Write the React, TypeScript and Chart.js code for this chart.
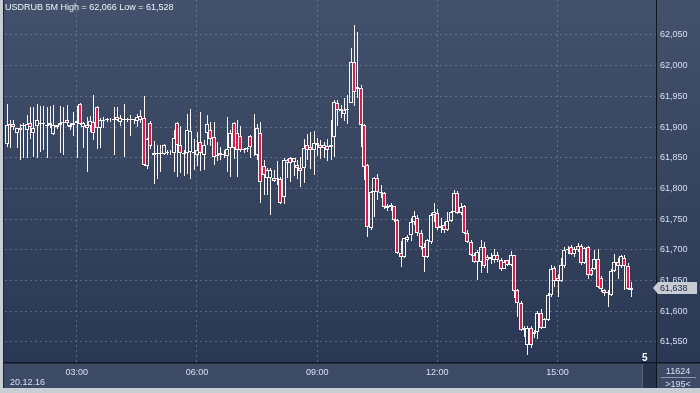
import React, { useEffect, useRef } from 'react';
import { Chart, registerables } from 'chart.js';

Chart.register(...registerables);

// ---------- data ----------
const startMinute = 75; // 01:15, 5-minute bars
const slotCount = 195;
const xTickLabels = ['03:00', '06:00', '09:00', '12:00', '15:00'];
const yTickValues = [61.55, 61.6, 61.65, 61.7, 61.75, 61.8, 61.85, 61.9, 61.95, 62.0, 62.05];
const yMin = 61.5173;
const yMax = 62.107;

const titleText = 'USDRUB 5M High = 62,066 Low = 61,528';
const dateLabel = '20.12.16';
const lastPrice = 61.638;
const volumeLabel = '11624';
const barsLabel = '>195<';
const zoomLabel = '5';

const openPrices = [
  61.872, 61.903, 61.905, 61.890, 61.896, 61.902, 61.895, 61.907, 61.890, 61.902,
  61.905, 61.905, 61.901, 61.903, 61.889, 61.900, 61.903, 61.906, 61.911, 61.900,
  61.906, 61.906, 61.938, 61.900, 61.899, 61.902, 61.909, 61.933, 61.899, 61.910,
  61.911, 61.911, 61.912, 61.916, 61.908, 61.911, 61.911, 61.911, 61.912, 61.910,
  61.918, 61.915, 61.836, 61.907, 61.855, 61.856, 61.856, 61.856, 61.858, 61.859,
  61.858, 61.906, 61.871, 61.856, 61.858, 61.860, 61.857, 61.855, 61.876, 61.854,
  61.890, 61.895, 61.884, 61.853, 61.855, 61.855, 61.853, 61.866, 61.906, 61.890,
  61.885, 61.862, 61.865, 61.885, 61.867, 61.854, 61.890, 61.837, 61.817, 61.817,
  61.817, 61.815, 61.815, 61.786, 61.842, 61.849, 61.843, 61.838, 61.834, 61.833,
  61.871, 61.868, 61.863, 61.871, 61.871, 61.866, 61.869, 61.868, 61.884, 61.939,
  61.926, 61.922, 61.928, 61.940, 62.006, 61.962, 61.964, 61.903, 61.838, 61.735,
  61.794, 61.817, 61.793, 61.793, 61.772, 61.773, 61.771, 61.749, 61.695, 61.688,
  61.716, 61.724, 61.745, 61.752, 61.727, 61.704, 61.688, 61.713, 61.756, 61.760,
  61.739, 61.740, 61.733, 61.747, 61.762, 61.793, 61.760, 61.771, 61.727, 61.713,
  61.692, 61.680, 61.680, 61.705, 61.683, 61.685, 61.683, 61.692, 61.683, 61.669,
  61.683, 61.675, 61.691, 61.635, 61.614, 61.572, 61.545, 61.573, 61.566, 61.566,
  61.597, 61.573, 61.586, 61.626, 61.670, 61.654, 61.650, 61.673, 61.700, 61.705,
  61.693, 61.700, 61.706, 61.678, 61.705, 61.667, 61.668, 61.685, 61.654, 61.634,
  61.630, 61.626, 61.666, 61.681, 61.673, 61.687, 61.673, 61.635,
];

const highPrices = [
  61.938, 61.912, 61.912, 61.899, 61.905, 61.906, 61.920, 61.932, 61.932, 61.937,
  61.935, 61.935, 61.932, 61.935, 61.936, 61.904, 61.935, 61.933, 61.936, 61.907,
  61.924, 61.935, 61.940, 61.908, 61.917, 61.918, 61.952, 61.935, 61.914, 61.916,
  61.915, 61.914, 61.932, 61.933, 61.919, 61.937, 61.915, 61.919, 61.913, 61.922,
  61.927, 61.950, 61.883, 61.910, 61.878, 61.870, 61.870, 61.872, 61.862, 61.862,
  61.895, 61.909, 61.901, 61.863, 61.922, 61.930, 61.881, 61.892, 61.925, 61.879,
  61.920, 61.909, 61.909, 61.875, 61.867, 61.862, 61.917, 61.895, 61.908, 61.911,
  61.901, 61.866, 61.868, 61.887, 61.921, 61.905, 61.909, 61.846, 61.833, 61.833,
  61.830, 61.845, 61.818, 61.849, 61.848, 61.851, 61.850, 61.846, 61.851, 61.880,
  61.889, 61.892, 61.893, 61.882, 61.879, 61.876, 61.880, 61.911, 61.944, 61.944,
  61.936, 61.947, 61.952, 62.029, 62.066, 62.055, 61.969, 61.905, 61.840, 61.796,
  61.819, 61.824, 61.806, 61.794, 61.775, 61.777, 61.772, 61.750, 61.715, 61.720,
  61.724, 61.752, 61.763, 61.757, 61.732, 61.711, 61.718, 61.760, 61.776, 61.767,
  61.752, 61.745, 61.762, 61.763, 61.797, 61.796, 61.777, 61.773, 61.732, 61.716,
  61.695, 61.700, 61.716, 61.712, 61.692, 61.695, 61.701, 61.696, 61.686, 61.684,
  61.684, 61.698, 61.692, 61.637, 61.616, 61.576, 61.576, 61.576, 61.570, 61.600,
  61.603, 61.589, 61.629, 61.675, 61.673, 61.661, 61.686, 61.704, 61.707, 61.708,
  61.705, 61.711, 61.710, 61.705, 61.707, 61.671, 61.700, 61.702, 61.657, 61.636,
  61.634, 61.668, 61.693, 61.686, 61.692, 61.692, 61.678, 61.648,
];

const lowPrices = [
  61.868, 61.866, 61.895, 61.866, 61.846, 61.850, 61.849, 61.880, 61.852, 61.850,
  61.860, 61.862, 61.849, 61.898, 61.887, 61.897, 61.858, 61.855, 61.901, 61.896,
  61.885, 61.849, 61.903, 61.866, 61.826, 61.892, 61.879, 61.864, 61.866, 61.898,
  61.909, 61.909, 61.855, 61.910, 61.902, 61.852, 61.908, 61.886, 61.905, 61.900,
  61.907, 61.837, 61.832, 61.864, 61.808, 61.815, 61.826, 61.855, 61.854, 61.855,
  61.827, 61.819, 61.825, 61.820, 61.824, 61.815, 61.830, 61.836, 61.829, 61.830,
  61.871, 61.869, 61.838, 61.845, 61.847, 61.850, 61.826, 61.818, 61.848, 61.818,
  61.860, 61.858, 61.860, 61.850, 61.853, 61.847, 61.776, 61.789, 61.790, 61.757,
  61.810, 61.806, 61.774, 61.775, 61.817, 61.810, 61.820, 61.815, 61.803, 61.809,
  61.846, 61.832, 61.822, 61.853, 61.848, 61.850, 61.845, 61.846, 61.852, 61.902,
  61.915, 61.910, 61.905, 61.939, 61.935, 61.947, 61.868, 61.814, 61.721, 61.733,
  61.754, 61.781, 61.785, 61.767, 61.764, 61.764, 61.746, 61.693, 61.672, 61.687,
  61.713, 61.714, 61.740, 61.722, 61.702, 61.664, 61.686, 61.710, 61.746, 61.733,
  61.728, 61.728, 61.731, 61.745, 61.761, 61.759, 61.756, 61.725, 61.711, 61.690,
  61.678, 61.651, 61.662, 61.670, 61.662, 61.677, 61.679, 61.680, 61.666, 61.668,
  61.673, 61.674, 61.622, 61.591, 61.567, 61.558, 61.528, 61.540, 61.557, 61.555,
  61.571, 61.572, 61.584, 61.623, 61.639, 61.623, 61.647, 61.670, 61.694, 61.691,
  61.689, 61.696, 61.676, 61.677, 61.652, 61.657, 61.667, 61.638, 61.632, 61.625,
  61.607, 61.625, 61.664, 61.652, 61.671, 61.634, 61.634, 61.623,
];

const closePrices = [
  61.903, 61.905, 61.900, 61.899, 61.898, 61.904, 61.905, 61.900, 61.899, 61.911,
  61.907, 61.907, 61.904, 61.906, 61.903, 61.903, 61.906, 61.909, 61.907, 61.904,
  61.903, 61.910, 61.905, 61.906, 61.904, 61.910, 61.891, 61.899, 61.912, 61.912,
  61.913, 61.912, 61.913, 61.911, 61.914, 61.913, 61.913, 61.913, 61.913, 61.916,
  61.912, 61.838, 61.880, 61.869, 61.858, 61.858, 61.858, 61.871, 61.860, 61.860,
  61.882, 61.871, 61.858, 61.858, 61.895, 61.893, 61.859, 61.862, 61.858, 61.870,
  61.905, 61.881, 61.852, 61.855, 61.857, 61.856, 61.864, 61.891, 61.866, 61.863,
  61.863, 61.864, 61.866, 61.868, 61.868, 61.898, 61.810, 61.822, 61.830, 61.830,
  61.812, 61.817, 61.776, 61.846, 61.846, 61.842, 61.849, 61.833, 61.828, 61.866,
  61.863, 61.863, 61.874, 61.874, 61.866, 61.871, 61.863, 61.871, 61.941, 61.928,
  61.929, 61.927, 61.930, 62.006, 61.957, 61.965, 61.903, 61.835, 61.737, 61.794,
  61.817, 61.794, 61.795, 61.770, 61.768, 61.770, 61.749, 61.695, 61.688, 61.719,
  61.721, 61.745, 61.755, 61.727, 61.704, 61.688, 61.716, 61.757, 61.762, 61.736,
  61.735, 61.733, 61.747, 61.762, 61.793, 61.760, 61.770, 61.727, 61.713, 61.692,
  61.680, 61.697, 61.705, 61.673, 61.688, 61.688, 61.692, 61.683, 61.669, 61.680,
  61.676, 61.692, 61.633, 61.614, 61.570, 61.570, 61.573, 61.545, 61.563, 61.597,
  61.573, 61.587, 61.626, 61.668, 61.650, 61.650, 61.676, 61.700, 61.702, 61.693,
  61.702, 61.706, 61.678, 61.703, 61.659, 61.659, 61.685, 61.640, 61.637, 61.630,
  61.632, 61.665, 61.681, 61.674, 61.690, 61.673, 61.637, 61.638,
];

// ---------- helpers ----------
const pad2 = (n: number) => (n < 10 ? '0' + n : '' + n);
const categories: string[] = [];
for (let i = 0; i < slotCount; i++) {
  const m = startMinute + i * 5;
  categories.push(pad2(Math.floor(m / 60) % 24) + ':' + pad2(m % 60));
}
const fmtPrice = (v: number) => v.toFixed(3).replace('.', ',');

const FONT = "'Liberation Sans', Arial, sans-serif";
const AXIS_TEXT = '#d3e0f2';
const GRID = 'rgba(120,135,165,0.6)';
const CANDLE_LINE = '#fbf7f7';
const CANDLE_DOWN = '#e3194a';
const W = 700;
const H = 393;

// snap candle elements to whole pixels so lines render crisp
const snapPlugin = {
  id: 'snap',
  afterDatasetsUpdate(chart: any) {
    chart.data.datasets.forEach((ds: any, di: number) => {
      const meta = chart.getDatasetMeta(di);
      const isWick = ds.label !== 'body';
      meta.data.forEach((el: any) => {
        el.x = Math.round(el.x) + (isWick ? 0.5 : 0);
        el.y = Math.round(el.y);
        el.base = Math.round(el.base);
      });
    });
  },
};

const framePlugin = {
  id: 'frame',
  beforeDraw(chart: any) {
    const ctx = chart.ctx as CanvasRenderingContext2D;
    const { bottom } = chart.chartArea;
    ctx.save();
    ctx.fillStyle = '#c9cdd4';
    ctx.fillRect(0, 0, W, H);
    const g = ctx.createLinearGradient(0, 0, 0, bottom);
    g.addColorStop(0, '#43516c');
    g.addColorStop(0.5, '#36445f');
    g.addColorStop(1, '#2b3855');
    ctx.fillStyle = g;
    ctx.fillRect(3, 0, W - 3, bottom);
    ctx.fillStyle = '#3d4a66';
    ctx.fillRect(3, bottom, W - 3, 388 - bottom);
    ctx.restore();
  },
  afterDraw(chart: any) {
    const ctx = chart.ctx as CanvasRenderingContext2D;
    const { right, bottom } = chart.chartArea;
    ctx.save();
    // separators
    ctx.fillStyle = '#10151f';
    ctx.fillRect(3, bottom, W - 3, 1.5);
    ctx.fillRect(right, 0, 1, 388);
    ctx.fillStyle = '#1b2233';
    ctx.fillRect(3, 0, 1, 388);
    // scroll box
    ctx.fillStyle = '#27324b';
    ctx.fillRect(643, bottom + 2, right - 643, 388 - bottom - 2);
    ctx.fillStyle = '#56627a';
    ctx.fillRect(642, bottom + 2, 1, 388 - bottom - 2);
    // bottom-right box
    ctx.fillStyle = '#8d99ae';
    ctx.fillRect(661, 377, 35, 1);

    ctx.fillStyle = '#eef2f8';
    ctx.font = `9px ${FONT}`;
    ctx.textBaseline = 'middle';
    ctx.textAlign = 'left';
    ctx.fillText(titleText, 5, 8);

    ctx.fillStyle = AXIS_TEXT;
    ctx.textBaseline = 'alphabetic';
    ctx.fillText(dateLabel, 10, 385);
    ctx.textAlign = 'center';
    ctx.fillText(volumeLabel, 678, 374);
    ctx.fillText(barsLabel, 678, 387);

    ctx.fillStyle = '#ffffff';
    ctx.font = `bold 10px ${FONT}`;
    ctx.textAlign = 'left';
    ctx.fillText(zoomLabel, 642, 361);

    // last price marker
    const py = chart.scales.y.getPixelForValue(lastPrice);
    ctx.fillStyle = '#c7ccd5';
    ctx.beginPath();
    ctx.moveTo(653, py);
    ctx.lineTo(658, py - 6);
    ctx.lineTo(697, py - 6);
    ctx.lineTo(697, py + 6);
    ctx.lineTo(658, py + 6);
    ctx.closePath();
    ctx.fill();
    ctx.fillStyle = '#1c2641';
    ctx.font = `9px ${FONT}`;
    ctx.textBaseline = 'middle';
    ctx.fillText(fmtPrice(lastPrice), 660, py + 0.5);
    ctx.restore();
  },
};

export default function App() {
  const canvasRef = useRef<HTMLCanvasElement | null>(null);

  useEffect(() => {
    const canvas = canvasRef.current;
    if (!canvas) return;
    const n = closePrices.length;
    const bodies: [number, number][] = [];
    const upper: [number, number][] = [];
    const lower: [number, number][] = [];
    const fills: string[] = [];
    for (let i = 0; i < n; i++) {
      const o = openPrices[i];
      const c = closePrices[i];
      bodies.push([o, c]);
      upper.push([Math.max(o, c), highPrices[i]]);
      lower.push([lowPrices[i], Math.min(o, c)]);
      fills.push(c < o ? CANDLE_DOWN : 'rgba(0,0,0,0)');
    }

    const chart = new Chart(canvas, {
      type: 'bar',
      data: {
        labels: categories,
        datasets: [
          {
            label: 'body',
            data: bodies as any,
            backgroundColor: fills,
            borderColor: CANDLE_LINE,
            borderWidth: 1,
            borderSkipped: false,
            barThickness: 4,
            grouped: false,
            inflateAmount: 0,
          } as any,
          {
            label: 'upper',
            data: upper as any,
            backgroundColor: CANDLE_LINE,
            borderWidth: 0,
            barThickness: 1,
            grouped: false,
            inflateAmount: 0,
          } as any,
          {
            label: 'lower',
            data: lower as any,
            backgroundColor: CANDLE_LINE,
            borderWidth: 0,
            barThickness: 1,
            grouped: false,
            inflateAmount: 0,
          } as any,
        ],
      },
      options: {
        animation: false,
        responsive: false,
        devicePixelRatio: 1,
        layout: { padding: { left: 5, top: 0, right: 0, bottom: 0 } },
        plugins: {
          legend: { display: false },
          tooltip: { enabled: false },
          title: { display: false },
        },
        scales: {
          x: {
            type: 'category',
            offset: true,
            grid: { display: true, offset: false, drawTicks: false, color: GRID, lineWidth: 1 },
            border: { display: false, dash: [2, 3] },
            ticks: {
              autoSkip: false,
              maxRotation: 0,
              padding: 5,
              color: AXIS_TEXT,
              font: { family: FONT, size: 9 },
            },
            afterBuildTicks: (scale: any) => {
              scale.ticks = scale.ticks.filter((t: any) => xTickLabels.includes(categories[t.value]));
            },
            afterFit: (scale: any) => {
              scale.height = 31;
              scale.paddingLeft = 0;
              scale.paddingRight = 0;
            },
          },
          y: {
            position: 'right',
            min: yMin,
            max: yMax,
            grid: { display: true, drawTicks: false, color: GRID, lineWidth: 1 },
            border: { display: false, dash: [2, 3] },
            ticks: {
              padding: 4,
              color: AXIS_TEXT,
              font: { family: FONT, size: 9 },
              callback: (v: any) => fmtPrice(Number(v)),
            },
            afterBuildTicks: (scale: any) => {
              scale.ticks = yTickValues.map((v) => ({ value: v }));
            },
            afterFit: (scale: any) => {
              scale.width = 44;
              scale.paddingTop = 0;
              scale.paddingBottom = 0;
            },
          },
        },
      } as any,
      plugins: [snapPlugin, framePlugin],
    });

    return () => chart.destroy();
  }, []);

  return (
    <div style={{ position: 'absolute', left: 0, top: 0, width: W, height: H }}>
      <canvas ref={canvasRef} width={W} height={H} style={{ display: 'block' }} />
    </div>
  );
}
